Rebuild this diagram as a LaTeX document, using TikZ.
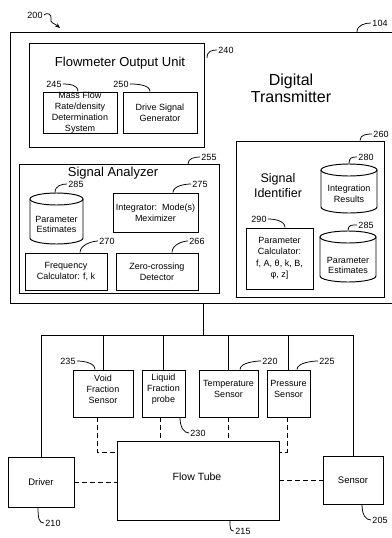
\documentclass[tikz,border=0pt]{standalone}
\usepackage{fontspec}
\setmainfont{Liberation Sans}
\usetikzlibrary{arrows.meta}
\newcommand{\drumshape}[6]{%
  \pgfmathsetmacro\drx{(#4-#2)/2}%
  \node[draw=none, inner sep=0pt, minimum width={(#4-#2)*1pt}, minimum height={(#5-#3)*1pt}] (#1) at ({(#2+#4)/2},{(#3+#5)/2}) {};
  \draw ({(#2+#4)/2},{#3+6}) ellipse [x radius={\drx*1pt}, y radius=6pt];
  \draw ({#2},{#3+6}) -- ({#2},{#5-6}) arc [start angle=180, end angle=360, x radius={\drx*1pt}, y radius=6pt] -- ({#4},{#3+6});
  \node[txt] (#1t) at ({(#2+#4)/2},{(#3+#5)/2+#6}) {};
}
\begin{document}
\begin{tikzpicture}[x=1pt,y=-1pt,line width=0.95pt,
  box/.style={draw, rectangle, inner sep=0pt},
  txt/.style={align=center, font=\fontsize{9}{10.8}\selectfont, inner sep=0pt},
  num/.style={font=\fontsize{9}{9}\selectfont, inner sep=1pt},
  lead/.style={line width=0.75pt},
  dl/.style={dash pattern=on 5pt off 3pt, line width=0.85pt}]
\useasboundingbox (0,0) rectangle (391,538);

% outer transmitter box
\node[box, minimum width=383pt, minimum height=271pt] (outer) at (201.5,167.5) {};
\node[font=\fontsize{16}{17}\selectfont, align=center, inner sep=0pt] (dt) at (291,88.5) {Digital\\Transmitter};

% flowmeter output unit
\node[box, minimum width=175pt, minimum height=104pt] (fou) at (116.5,95) {};
\node[font=\fontsize{13}{14}\selectfont, inner sep=0pt] (fout) at (120,63) {Flowmeter Output Unit};
\node[box, txt, minimum width=74pt, minimum height=41pt] (mass) at (80,112.5) {Mass Flow\\Rate/density\\Determination\\System};
\node[box, txt, minimum width=74pt, minimum height=41pt] (drive) at (160,112.5) {Drive Signal\\Generator};

% signal analyzer
\node[box, minimum width=200pt, minimum height=129pt] (sa) at (119,228.5) {};
\node[font=\fontsize{13}{14}\selectfont, inner sep=0pt] (sat) at (113,173) {Signal Analyzer};
\drumshape{pe1}{30}{193}{83}{244}{6}
\node[txt] at (pe1t) {Parameter\\Estimates};
\node[box, txt, minimum width=85pt, minimum height=39pt] (integ) at (155.5,212.5) {Integrator:\ \ Mode(s)\\Meximizer};
\node[box, txt, minimum width=82pt, minimum height=37pt] (freq) at (66,271.5) {Frequency\\Calculator: f, k};
\node[box, txt, minimum width=82pt, minimum height=37pt] (zero) at (157,271.5) {Zero-crossing\\Detector};

% signal identifier
\node[box, minimum width=148pt, minimum height=156pt] (si) at (310,219) {};
\node[font=\fontsize{12.5}{15}\selectfont, align=center, inner sep=0pt] (sit) at (278,185.5) {Signal\\Identifier};
\drumshape{ir}{321}{164}{377}{213}{5.5}
\node[txt] at (irt) {Integration\\Results};
\drumshape{pe2}{320}{231}{376}{282}{9}
\node[txt] at (pe2t) {Parameter\\Estimates};
\node[box, txt, minimum width=67pt, minimum height=61pt, font=\fontsize{9}{11.5}\selectfont] (pcalc) at (279.5,258.5) {Parameter\\Calculator:\\f, A, θ, k, B,\\φ, z]};

% sensors
\node[box, minimum width=60pt, minimum height=47pt] (void) at (103,393.5) {};
\node[txt] (voidt) at (103,389) {Void\\Fraction\\Sensor};
\node[box, minimum width=43pt, minimum height=47pt] (liquid) at (163.5,393.5) {};
\node[txt] (liquidt) at (163.5,389) {Liquid\\Fraction\\probe};
\node[box, minimum width=59pt, minimum height=47pt] (temp) at (228.5,393.5) {};
\node[txt] (tempt) at (228.5,389) {Temperature\\Sensor};
\node[box, minimum width=43pt, minimum height=47pt] (press) at (288.5,393.5) {};
\node[txt] (presst) at (288.5,389) {Pressure\\Sensor};

\node[box, minimum width=162pt, minimum height=79pt] (flow) at (198,480.5) {};
\node[font=\fontsize{10.5}{12}\selectfont, inner sep=0pt] (flowt) at (197,477) {Flow Tube};
\node[box, txt, font=\fontsize{9.5}{11}\selectfont, minimum width=66pt, minimum height=50pt] (driver) at (41,482) {Driver};
\node[box, txt, font=\fontsize{9.5}{11}\selectfont, minimum width=60pt, minimum height=48pt] (sensor) at (353,480) {Sensor};

% wiring
\coordinate (bus) at (203,335);
\draw (outer.south -| bus) -- (bus);
\draw (driver.north) -- (driver.north |- bus) -- (sensor.north |- bus) -- (sensor.north);
\foreach \n in {void,liquid,temp,press} \draw (\n.north) -- (\n.north |- bus);

\draw[dl] ([xshift=-6pt]void.south) |- ([yshift=28.5pt]flow.west);
\draw[dl] ([xshift=-3.5pt]liquid.south) -- ([xshift=-3.5pt]liquid.south |- flow.north);
\draw[dl] (temp.south) -- (temp.south |- flow.north);
\draw[dl] ([xshift=-1.5pt]press.south) |- ([yshift=28.5pt]flow.east);
\draw[dl] (driver.east) -- (driver.east -| flow.west);
\draw[dl] (sensor.west -| flow.east) -- (sensor.west);

% reference numerals
\node[num] (l200) at (35,15) {200};
\draw[lead, -{Stealth[length=5pt,width=4pt]}] (l200.east) .. controls (47,12) and (52,14) .. (51,19) .. controls (50,23) and (54,23) .. (60,28);

\coordinate (c104) at (357,32);
\node[num] (l104) at (380,23) {104};
\draw[lead] (c104) .. controls +(0,-7) and +(-6,0) .. (l104.west);

\coordinate (c240) at (207,58);
\node[num] (l240) at (226,50) {240};
\draw[lead] (c240) .. controls +(0,-7) and +(-5,0) .. (l240.west);

\node[num] (l245) at (54,84) {245};
\draw[lead] ([xshift=-2pt]mass.north) .. controls +(0,-7) and +(6,0) .. (l245.east);
\node[num] (l250) at (121,84) {250};
\draw[lead] ([xshift=-10pt]drive.north) .. controls +(0,-7) and +(6,0) .. (l250.east);

\coordinate (c255) at (188,164);
\node[num] (l255) at (209,157) {255};
\draw[lead] (c255) .. controls +(0,-6) and +(-5,0) .. (l255.west);
\node[num] (l285a) at (76,184) {285};
\draw[lead] ([xshift=-1.5pt]pe1.north) .. controls +(0,-7) and +(-5,0) .. (l285a.west);
\node[num] (l275) at (200,184) {275};
\draw[lead] ([xshift=17.5pt]integ.north) .. controls +(0,-7) and +(-5,0) .. (l275.west);
\node[num] (l270) at (107,241) {270};
\draw[lead] ([xshift=14pt]freq.north) .. controls +(0,-8) and +(-5,0) .. (l270.west);
\node[num] (l266) at (197,241) {266};
\draw[lead] ([xshift=15pt]zero.north) .. controls +(0,-8) and +(-5,0) .. (l266.west);

\node[num] (l260) at (381,134) {260};
\draw[lead] ([xshift=50pt]si.north) .. controls +(0,-6) and +(-5,0) .. (l260.west);
\node[num] (l280) at (366,157) {280};
\draw[lead] (ir.north) .. controls +(0,-6) and +(-5,0) .. (l280.west);
\node[num] (l285b) at (366,225) {285};
\draw[lead] (pe2.north) .. controls +(0,-6) and +(-5,0) .. (l285b.west);
\node[num] (l290) at (259,219) {290};
\draw[lead] ([xshift=5.5pt]pcalc.north) .. controls +(0,-7) and +(6,0) .. (l290.east);

\node[num] (l235) at (68,361) {235};
\draw[lead] ([xshift=-8pt]void.north) .. controls +(0,-7) and +(6,0) .. (l235.east);
\node[num] (l220) at (270,361) {220};
\draw[lead] ([xshift=11.5pt]temp.north) .. controls +(0,-7) and +(-5,0) .. (l220.west);
\node[num] (l225) at (327,361) {225};
\draw[lead] ([xshift=8.5pt]press.north) .. controls +(0,-7) and +(-5,0) .. (l225.west);
\node[num] (l230) at (198,433) {230};
\draw[lead] ([xshift=16.5pt]liquid.south) .. controls +(0,10) and +(-5,0) .. (l230.west);

\node[num] (l210) at (53,523) {210};
\draw[lead] ([xshift=-3pt]driver.south) .. controls +(0,11) and +(-5,0) .. (l210.west);
\node[num] (l215) at (243,531) {215};
\draw[lead] ([xshift=32pt]flow.south) .. controls +(0,8) and +(-4,0) .. (l215.west);
\node[num] (l205) at (380,520) {205};
\draw[lead] ([xshift=9pt]sensor.south) .. controls +(0,11) and +(-5,0) .. (l205.west);
\end{tikzpicture}
\end{document}
